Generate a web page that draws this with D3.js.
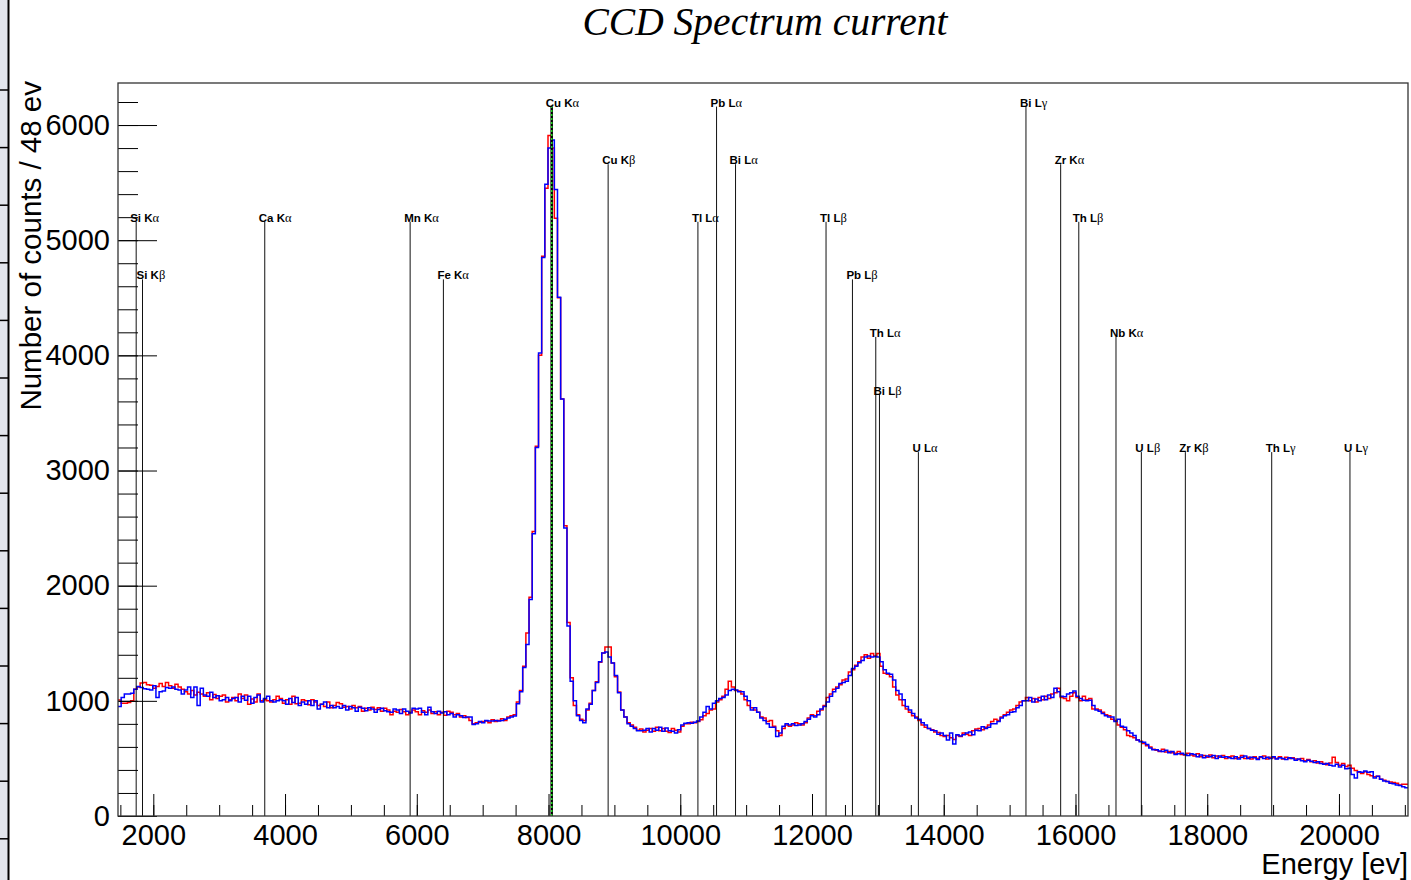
<!DOCTYPE html>
<html>
<head>
<meta charset="utf-8">
<script src="https://cdn.jsdelivr.net/npm/d3@7"></script>
<style>
  body { margin: 0; background: #fff; }
  svg { display: block; }
</style>
</head>
<body>
<svg id="chart" width="1411" height="880"></svg>
<script>
// Histogram binning (eV)
const binStart = 1464;
const binWidth = 48;
const energyRange = [1464, 21048];
const countRange = [0, 6365];

// Axis ticks
const energyMajorTicks = [2000, 4000, 6000, 8000, 10000, 12000, 14000, 16000, 18000, 20000];
const energyMinorTicks = d3.range(1500, 21001, 500);
const countMajorTicks = [0, 1000, 2000, 3000, 4000, 5000, 6000];
const countMinorTicks = d3.range(0, 6301, 200);

// Counts per 48 eV bin, first spectrum (red)
const countsRed = [
  1007, 980, 980, 985, 1000, 1100, 1120, 1155, 1160, 1140,
  1135, 1110, 1125, 1150, 1125, 1160, 1130, 1110, 1145, 1120,
  1100, 1080, 1060, 1090, 1050, 1075, 1060, 1040, 1070, 1010,
  1055, 1020, 1040, 1050, 990, 1010, 1030, 1000, 1060, 1020,
  1050, 970, 1015, 990, 1060, 1000, 1010, 1000, 990, 1010,
  1040, 1020, 980, 1010, 970, 1040, 975, 980, 1010, 1000,
  965, 1010, 990, 960, 970, 950, 990, 940, 960, 985,
  975, 945, 950, 930, 960, 940, 950, 910, 935, 920,
  945, 925, 940, 910, 935, 920, 880, 910, 900, 925,
  905, 880, 900, 920, 905, 880, 915, 900, 920, 890,
  905, 880, 900, 875, 910, 900, 880, 890, 860, 870,
  855, 830, 800, 810, 815, 820, 825, 810, 835, 820,
  830, 845, 830, 860, 870, 880, 990, 1090, 1300, 1590,
  1900, 2470, 3210, 4000, 4860, 5450, 5910, 5800, 5190, 4500,
  3620, 2520, 1680, 1200, 960, 880, 840, 830, 920, 980,
  1090, 1165, 1335, 1415, 1467, 1467, 1328, 1210, 1076, 920,
  860, 810, 790, 770, 745, 755, 730, 745, 760, 735,
  770, 740, 760, 735, 725, 760, 745, 730, 780, 800,
  800, 815, 810, 820, 835, 870, 890, 920, 930, 990,
  1010, 1040, 1100, 1170, 1120, 1090, 1085, 1060, 1010, 960,
  940, 920, 900, 860, 850, 820, 830, 780, 740, 700,
  760, 790, 780, 790, 810, 800, 790, 810, 850, 880,
  870, 910, 920, 960, 1030, 1060, 1100, 1120, 1140, 1180,
  1190, 1250, 1270, 1310, 1340, 1380, 1400, 1370, 1410, 1390,
  1410, 1300, 1240, 1230, 1210, 1120, 1050, 1010, 960, 930,
  900, 870, 860, 830, 790, 770, 760, 750, 730, 725,
  700, 690, 700, 680, 665, 700, 690, 720, 710, 700,
  740, 755, 760, 750, 770, 790, 820, 840, 830, 860,
  880, 900, 920, 930, 960, 990, 1000, 1030, 1000, 1020,
  990, 1030, 1010, 1040, 1020, 1060, 1070, 1110, 1030, 1020,
  1000, 1040, 1070, 1030, 1000, 1040, 1010, 1020, 930, 930,
  920, 900, 880, 870, 840, 830, 790, 770, 750, 700,
  690, 680, 660, 650, 630, 610, 600, 580, 570, 560,
  580, 555, 560, 550, 545, 560, 535, 530, 545, 530,
  520, 540, 515, 525, 510, 530, 505, 520, 510, 525,
  500, 515, 520, 500, 505, 525, 500, 510, 495, 515,
  500, 510, 520, 495, 510, 505, 500, 515, 495, 510,
  500, 505, 495, 490, 500, 480, 490, 470, 480, 460,
  470, 455, 445, 460, 510, 465, 440, 455, 430, 440,
  415, 395, 380, 370, 385, 360, 350, 340, 345, 320,
  310, 300, 295, 290, 285, 270, 275, 275
];

// Counts per 48 eV bin, second spectrum (blue)
const countsBlue = [
  950, 1030, 1060, 1060, 1065, 1100, 1125, 1115, 1105, 1100,
  1095, 1130, 1030, 1080, 1085, 1115, 1110, 1120, 1100, 1095,
  1060, 1095, 1120, 1030, 1120, 960, 1110, 1050, 1040, 1075,
  1030, 1045, 1000, 1010, 1030, 1000, 1020, 1030, 990, 1040,
  1005, 1040, 980, 1030, 1050, 990, 1020, 1040, 1000, 990,
  1000, 1010, 1000, 970, 1020, 985, 1030, 960, 990, 970,
  1000, 960, 1000, 930, 970, 990, 940, 960, 940, 950,
  935, 960, 920, 950, 940, 910, 945, 935, 915, 940,
  930, 900, 925, 935, 915, 905, 900, 930, 920, 890,
  930, 910, 895, 935, 930, 935, 900, 880, 945, 905,
  890, 910, 895, 905, 880, 890, 860, 880, 870, 855,
  860, 860, 795, 800, 820, 810, 830, 825, 825, 830,
  825, 830, 840, 850, 860, 868, 975, 1080, 1290, 1490,
  1880, 2450, 3200, 4020, 4850, 5486, 5800, 5870, 5440, 4505,
  3620, 2500, 1650, 1170, 1000, 870, 830, 810, 930, 970,
  1090, 1160, 1340, 1415, 1424, 1380, 1328, 1220, 1070, 920,
  860, 800, 780, 760, 740, 740, 745, 760, 730, 760,
  745, 770, 735, 765, 740, 735, 720, 750, 790, 805,
  810, 805, 815, 825, 860, 900, 950, 930, 980, 1000,
  1020, 1030, 1050, 1090, 1100, 1095, 1080, 1080, 1040, 1000,
  920, 940, 900, 850, 830, 800, 770, 770, 690, 720,
  780, 800, 790, 800, 785, 790, 800, 820, 840, 870,
  860, 880, 930, 950, 990, 1040, 1080, 1110, 1150, 1160,
  1170, 1220, 1280, 1300, 1330, 1350, 1380, 1390, 1380, 1385,
  1380, 1340, 1270, 1240, 1230, 1180, 1090, 1060, 1010, 950,
  920, 890, 850, 840, 810, 790, 760, 745, 740, 710,
  720, 700, 660, 720, 625, 705, 695, 705, 720, 730,
  705, 745, 740, 775, 760, 770, 800, 800, 820, 850,
  870, 880, 900, 905, 940, 960, 1000, 1000, 1030, 990,
  1015, 1000, 1040, 1010, 1050, 1030, 1110, 1080, 1040, 1035,
  1060, 1070, 1085, 1040, 1020, 1005, 1000, 1005, 960, 920,
  910, 890, 870, 860, 860, 820, 840, 780, 770, 740,
  720, 700, 660, 645, 640, 620, 590, 575, 575, 565,
  560, 570, 550, 560, 535, 540, 545, 535, 525, 540,
  535, 515, 530, 505, 520, 515, 525, 500, 520, 510,
  515, 505, 500, 515, 495, 510, 520, 500, 510, 505,
  490, 515, 500, 510, 500, 515, 495, 505, 500, 490,
  505, 500, 485, 495, 480, 470, 485, 475, 465, 470,
  455, 450, 455, 440, 435, 450, 425, 440, 410, 415,
  360, 330, 385, 380, 390, 380, 385, 330, 345, 320,
  305, 300, 285, 280, 270, 265, 255, 245
];

// X-ray emission lines: label, energy (eV), marker height (counts)
const lineLabels = [
  "Si K\u03b1", "Si K\u03b2", "Ca K\u03b1", "Mn K\u03b1", "Fe K\u03b1",
  "Cu K\u03b1", "Cu K\u03b2", "Tl L\u03b1", "Pb L\u03b1", "Bi L\u03b1",
  "Tl L\u03b2", "Pb L\u03b2", "Th L\u03b1", "Bi L\u03b2", "U L\u03b1",
  "Bi L\u03b3", "Zr K\u03b1", "Th L\u03b2", "Nb K\u03b1", "U L\u03b2",
  "Zr K\u03b2", "Th L\u03b3", "U L\u03b3"
];
const lineEnergies = [
  1740, 1836, 3692, 5899, 6404,
  8048, 8905, 10268, 10551, 10839,
  12213, 12614, 12968, 13024, 13615,
  15248, 15775, 16050, 16615, 17000,
  17668, 18979, 20167
];
const lineHeights = [
  5160, 4660, 5160, 5160, 4660,
  6160, 5660, 5160, 6160, 5660,
  5160, 4660, 4160, 3660, 3160,
  6160, 5660, 5160, 4160, 3160,
  3160, 3160, 3160
];
const highlightedLine = "Cu K\u03b1";

const svg = d3.select("#chart");
const frame = { left: 118, right: 1408, top: 83, bottom: 816 };

const x = d3.scaleLinear().domain(energyRange).range([frame.left, frame.right]);
const y = d3.scaleLinear().domain(countRange).range([frame.bottom, frame.top]);

// Strip of the neighbouring window at the left edge
svg.append("rect").attr("x", 0).attr("y", 0).attr("width", 8).attr("height", 880)
  .attr("fill", "#e2e6ed");
svg.append("line").attr("x1", 8.5).attr("x2", 8.5).attr("y1", 0).attr("y2", 880)
  .attr("stroke", "#000").attr("stroke-width", 2);
svg.append("g").selectAll("line").data(d3.range(90, 880, 57.6)).join("line")
  .attr("x1", 0).attr("x2", 8).attr("y1", d => d).attr("y2", d => d)
  .attr("stroke", "#000").attr("stroke-width", 1.5);

// Title
svg.append("text")
  .attr("x", 765).attr("y", 35)
  .attr("text-anchor", "middle")
  .attr("font-family", "Liberation Serif, Times New Roman, serif")
  .attr("font-style", "italic")
  .attr("font-size", 39.5)
  .text("CCD Spectrum current");

// Histograms as step lines
function stepPoints(counts) {
  const pts = counts.map((c, i) => [binStart + i * binWidth, c]);
  pts.push([binStart + counts.length * binWidth, counts[counts.length - 1]]);
  return pts;
}
const step = d3.line()
  .x(d => x(d[0]))
  .y(d => y(d[1]))
  .curve(d3.curveStepAfter);

const plot = svg.append("g");
plot.append("path").datum(stepPoints(countsRed))
  .attr("fill", "none").attr("stroke", "#ff0000").attr("stroke-width", 1.5)
  .attr("d", step);
plot.append("path").datum(stepPoints(countsBlue))
  .attr("fill", "none").attr("stroke", "#0000ff").attr("stroke-width", 1.5)
  .attr("d", step);

// Emission line markers
const markers = lineLabels.map((label, i) => ({
  label, energy: lineEnergies[i], height: lineHeights[i]
}));
const mg = svg.append("g");
mg.selectAll("line").data(markers).join("line")
  .attr("x1", d => x(d.energy)).attr("x2", d => x(d.energy))
  .attr("y1", y(0)).attr("y2", d => y(d.height))
  .attr("stroke", "#111").attr("stroke-width", 1);

const hl = markers.find(d => d.label === highlightedLine);
mg.append("line")
  .attr("x1", x(hl.energy)).attr("x2", x(hl.energy))
  .attr("y1", y(0)).attr("y2", y(hl.height))
  .attr("stroke", "#000").attr("stroke-width", 2.5);
mg.append("line")
  .attr("x1", x(hl.energy)).attr("x2", x(hl.energy))
  .attr("y1", y(0)).attr("y2", y(hl.height))
  .attr("stroke", "#22dd22").attr("stroke-width", 1.5)
  .attr("stroke-dasharray", "2,2");

const labels = mg.selectAll("text").data(markers).join("text")
  .attr("x", d => x(d.energy) - 6)
  .attr("y", d => y(d.height))
  .attr("font-family", "Liberation Sans, Arial, sans-serif")
  .attr("font-size", 11.5)
  .attr("fill", "#000");
labels.append("tspan").attr("font-weight", "bold").text(d => d.label.slice(0, -1));
labels.append("tspan")
  .attr("font-family", "Liberation Serif, Times New Roman, serif")
  .attr("font-size", 12.5)
  .text(d => d.label.slice(-1));

// Axes
const fmt = d3.format("d");
const xMinorAxis = d3.axisBottom(x).tickValues(energyMinorTicks).tickSize(-11).tickFormat("");
const xMajorAxis = d3.axisBottom(x).tickValues(energyMajorTicks).tickSize(-22).tickPadding(8).tickFormat(fmt);
const yMinorAxis = d3.axisLeft(y).tickValues(countMinorTicks).tickSize(-20).tickFormat("");
const yMajorAxis = d3.axisLeft(y).tickValues(countMajorTicks).tickSize(-39).tickPadding(8).tickFormat(fmt);

function styleAxis(g) {
  g.select(".domain").remove();
  g.selectAll(".tick line").attr("stroke", "#000").attr("stroke-width", 1);
  g.selectAll(".tick text")
    .attr("font-family", "Liberation Sans, Arial, sans-serif")
    .attr("font-size", 29)
    .attr("fill", "#000");
}
svg.append("g").attr("transform", `translate(0,${frame.bottom})`).call(xMinorAxis).call(styleAxis);
svg.append("g").attr("transform", `translate(0,${frame.bottom})`).call(xMajorAxis).call(styleAxis);
svg.append("g").attr("transform", `translate(${frame.left},0)`).call(yMinorAxis).call(styleAxis);
svg.append("g").attr("transform", `translate(${frame.left},0)`).call(yMajorAxis).call(styleAxis);

// Frame
svg.append("rect")
  .attr("x", frame.left).attr("y", frame.top)
  .attr("width", frame.right - frame.left).attr("height", frame.bottom - frame.top)
  .attr("fill", "none").attr("stroke", "#333").attr("stroke-width", 1.3);

// Axis titles
svg.append("text")
  .attr("x", frame.right).attr("y", 874)
  .attr("text-anchor", "end")
  .attr("font-family", "Liberation Sans, Arial, sans-serif")
  .attr("font-size", 29)
  .text("Energy [ev]");
svg.append("text")
  .attr("transform", "translate(41,81) rotate(-90)")
  .attr("text-anchor", "end")
  .attr("font-family", "Liberation Sans, Arial, sans-serif")
  .attr("font-size", 29.5)
  .text("Number of counts / 48 ev");
</script>
</body>
</html>
